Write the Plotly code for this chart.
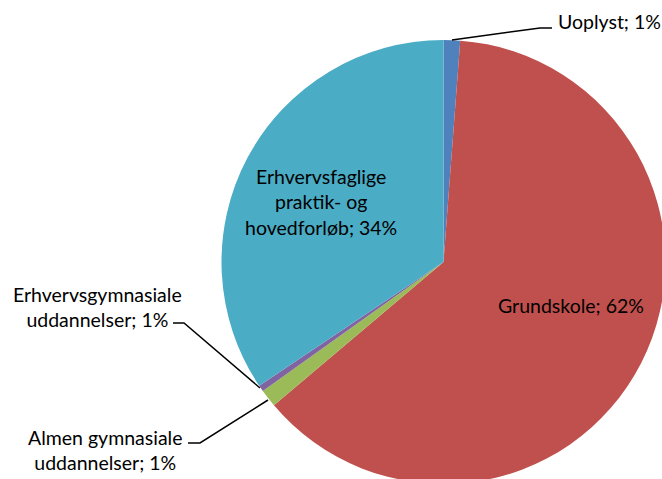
import plotly.graph_objects as go

# slices, clockwise from 12 o'clock
labels = ["Uoplyst", "Grundskole", "Almen gymnasiale uddannelser",
          "Erhvervsgymnasiale uddannelser", "Erhvervsfaglige praktik- og hovedforløb"]
values = [1.2, 62.6, 1.3, 0.45, 34.4]
pct_shown = ["1%", "62%", "1%", "1%", "34%"]
colors = ["#4F81BD", "#C0504D", "#9BBB59", "#8064A2", "#4BACC6"]

# label text as it is wrapped in the chart
label_text = ["Uoplyst", "Grundskole", "Almen gymnasiale<br>uddannelser",
              "Erhvervsgymnasiale<br>uddannelser", "Erhvervsfaglige<br>praktik- og<br>hovedforløb"]

# the pie runs slightly past the window edge in the original, so the figure
# is a few px bigger than the 662x479 window and the overflow is hidden
W, H = 666, 484
FONT = dict(family="Lato", size=19.5, color="#000000")

fig = go.Figure(go.Pie(
    labels=labels, values=values,
    marker=dict(colors=colors, line=dict(width=0)),
    sort=False, direction="clockwise", rotation=0,
    textinfo="none", hoverinfo="label+percent",
    domain=dict(x=[221 / W, 1.0], y=[0, 1 - 40 / H]),
    showlegend=False,
))

def px(x, y):
    return x / W, 1 - y / H

# label anchors (pixel) and leader lines
spots = {
    0: dict(pos=(556, 22), xanchor="left", line=[(452, 40), (540, 28), (552, 28)]),
    1: dict(pos=(571, 305), xanchor="center", line=None),
    2: dict(pos=(105, 450), xanchor="center", line=[(188, 443), (200, 443), (268, 400)]),
    3: dict(pos=(97, 307), xanchor="center", line=[(173, 323), (184, 323), (260, 388)]),
    4: dict(pos=(321, 202), xanchor="center", line=None),
}

for i, s in spots.items():
    x, y = px(*s["pos"])
    fig.add_annotation(x=x, y=y, xref="paper", yref="paper",
                       text=f"{label_text[i]}; {pct_shown[i]}",
                       showarrow=False, xanchor=s["xanchor"], yanchor="middle",
                       align="center", font=FONT)
    if s["line"]:
        pts = [px(a, b) for a, b in s["line"]]
        path = "M " + " L ".join(f"{a},{b}" for a, b in pts)
        fig.add_shape(type="path", path=path, xref="paper", yref="paper",
                      line=dict(color="#000000", width=1.5))

fig.update_layout(
    width=W, height=H,
    margin=dict(l=0, r=0, t=0, b=0),
    paper_bgcolor="white", plot_bgcolor="white",
)

fig.write_html("out.html", config={"displayModeBar": False},
               post_script="document.body.style.margin='0';document.body.style.overflow='hidden';")
